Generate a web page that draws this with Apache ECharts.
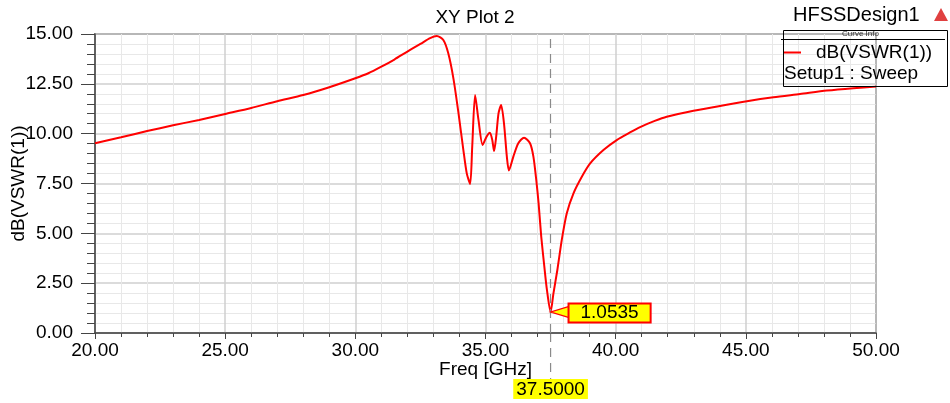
<!DOCTYPE html>
<html>
<head>
<meta charset="utf-8">
<script src="https://cdn.jsdelivr.net/npm/echarts@6/dist/echarts.min.js"></script>
<style>
  html, body { margin: 0; padding: 0; background: #fff; }
  #chart { width: 950px; height: 403px; }
</style>
</head>
<body>
<div id="chart"></div>
<script>
// frequency (GHz) and dB(VSWR(1))
const freq = [20, 21, 22, 23, 24, 25, 26, 27, 28, 29, 30, 30.5, 31, 31.5, 32, 32.5, 32.87, 33.13, 33.38, 33.57,
  33.77, 33.96, 34.15, 34.28, 34.41, 34.49, 34.6, 34.73, 34.89, 35.04, 35.17, 35.26, 35.33, 35.41, 35.5,
  35.6, 35.71, 35.82, 35.9, 36.07, 36.26, 36.48, 36.71, 36.84, 36.95, 37.04, 37.14, 37.26, 37.36, 37.5,
  37.61, 37.76, 37.93, 38.12, 38.38, 38.7, 39.02, 39.53, 40.04, 40.55, 40.94, 41.5, 41.96, 42.99, 44.01, 45.04,
  46.06, 47.08, 48.11, 49.13, 50];
const vswrDb = [9.52, 9.82, 10.13, 10.42, 10.69, 10.99, 11.29, 11.63, 11.94, 12.33, 12.78, 13.03, 13.36, 13.72, 14.12, 14.5, 14.79, 14.9, 14.7, 14.03,
  12.75, 11.05, 9.18, 8.01, 7.48, 9.35, 11.94, 10.69, 9.43, 9.85, 10.05, 9.68, 9.13, 9.85, 11.02,
  11.44, 10.52, 8.85, 8.15, 8.85, 9.52, 9.8, 9.52, 8.85, 7.68, 6.5, 4.85, 3.33, 2.16, 1.0535,
  1.99, 3.16, 4.67, 6.0, 7.01, 7.84, 8.51, 9.18, 9.68, 10.06, 10.33, 10.64, 10.85, 11.15, 11.39, 11.63,
  11.83, 11.99, 12.16, 12.28, 12.36];
const markerX = 37.5;
const markerY = 1.0535;

const font = "'Liberation Sans', Arial, sans-serif";
const chart = echarts.init(document.getElementById('chart'));

const option = {
  animation: false,
  textStyle: { fontFamily: font },
  title: {
    text: 'XY Plot 2',
    left: 'center',
    top: 3,
    textStyle: { fontFamily: font, fontSize: 19, fontWeight: 'normal', color: '#000' }
  },
  legend: {
    left: 783,
    top: 43,
    padding: 0,
    icon: 'rect',
    itemWidth: 18,
    itemHeight: 2,
    data: ['dB(VSWR(1))'],
    textStyle: { fontFamily: font, fontSize: 19, color: '#000', padding: [0, 0, 0, 10] }
  },
  grid: {
    left: 95, right: 74, top: 34, bottom: 70,
    outerBoundsMode: 'none',
    containLabel: false,
    show: true, borderColor: '#444', borderWidth: 1.5
  },
  xAxis: {
    type: 'value',
    min: 20, max: 50, interval: 5,
    name: 'Freq [GHz]',
    nameLocation: 'middle',
    nameGap: 27,
    nameMoveOverlap: false,
    nameTextStyle: { fontFamily: font, fontSize: 19, color: '#000' },
    axisLine: { show: true, lineStyle: { color: '#444', width: 1.5 } },
    axisTick: { show: true, length: 6, lineStyle: { color: '#444' } },
    minorTick: { show: true, splitNumber: 5, length: 4, lineStyle: { color: '#444' } },
    axisLabel: { fontFamily: font, fontSize: 19, color: '#000', margin: 8, formatter: v => v.toFixed(2) },
    splitLine: { show: true, lineStyle: { color: '#cfcfcf', width: 1.5 } },
    minorSplitLine: { show: true, lineStyle: { color: '#e8e8e8', width: 1 } }
  },
  yAxis: {
    type: 'value',
    min: 0, max: 15, interval: 2.5,
    name: 'dB(VSWR(1))',
    nameLocation: 'middle',
    nameGap: 67,
    nameMoveOverlap: false,
    nameTextStyle: { fontFamily: font, fontSize: 19, color: '#000' },
    axisLine: { show: true, lineStyle: { color: '#444', width: 1.5 } },
    axisTick: { show: true, length: 14, lineStyle: { color: '#444' } },
    minorTick: { show: true, splitNumber: 5, length: 8, lineStyle: { color: '#444' } },
    axisLabel: { fontFamily: font, fontSize: 19, color: '#000', margin: 22, formatter: v => v.toFixed(2) },
    splitLine: { show: true, lineStyle: { color: '#cfcfcf', width: 1.5 } },
    minorSplitLine: { show: true, lineStyle: { color: '#e8e8e8', width: 1 } }
  },
  series: [{
    name: 'dB(VSWR(1))',
    type: 'line',
    data: freq.map((f, i) => [f, vswrDb[i]]),
    showSymbol: false,
    symbol: 'none',
    smooth: 0.25,
    lineStyle: { color: '#ff0000', width: 2 },
    itemStyle: { color: '#ff0000' },
    z: 3,
    markLine: {
      silent: true,
      symbol: 'none',
      lineStyle: { color: '#8a8a8a', type: [9, 6], width: 1.2 },
      label: {
        show: true,
        position: 'start',
        distance: 46,
        formatter: markerX.toFixed(4),
        backgroundColor: '#ffff00',
        padding: [1, 3, 0, 3],
        fontFamily: font, fontSize: 19, color: '#000'
      },
      data: [{ xAxis: markerX }]
    },
    markPoint: {
      silent: true,
      symbol: 'path://M0 6 L20 0 L20 12 Z',
      symbolSize: [20, 12],
      symbolOffset: [10, 0],
      symbolKeepAspect: false,
      itemStyle: { color: '#ffff00', borderColor: '#ff0000', borderWidth: 1.5 },
      label: {
        show: true,
        position: 'inside',
        offset: [49, 1],
        formatter: markerY.toFixed(4),
        backgroundColor: '#ffff00',
        borderColor: '#ff0000',
        borderWidth: 2,
        padding: [0, 11, 0, 11],
        lineHeight: 17,
        fontFamily: font, fontSize: 19, color: '#000'
      },
      data: [{ coord: [markerX, markerY] }]
    }
  }],
  graphic: [
    { type: 'text', left: 793, top: 5, style: { text: 'HFSSDesign1', font: '20px ' + font, fill: '#000' } },
    { type: 'polygon', left: 934, top: 8, shape: { points: [[7, 0], [14, 13], [0, 13]] }, style: { fill: '#e04040' } },
    { type: 'rect', left: 781, top: 28, shape: { width: 164, height: 56 }, style: { fill: 'none', stroke: '#000', lineWidth: 1 }, z: 10 },
    { type: 'line', shape: { x1: 781, y1: 39.5, x2: 945, y2: 39.5 }, style: { stroke: '#000', lineWidth: 1 }, z: 10 },
    { type: 'text', left: 842, top: 30, style: { text: 'Curve Info', font: '8px ' + font, fill: '#333' }, z: 10 },
    { type: 'text', left: 784, top: 64, style: { text: 'Setup1 : Sweep', font: '19px ' + font, fill: '#000' }, z: 10 }
  ]
};
chart.setOption(option);

// dashed marker line continues below the axis down to the frequency tag
const bottom = chart.convertToPixel({ gridIndex: 0 }, [markerX, 0]);
chart.setOption({
  graphic: option.graphic.concat([{
    type: 'line',
    shape: { x1: bottom[0], y1: bottom[1], x2: bottom[0], y2: bottom[1] + 46 },
    style: { stroke: '#8a8a8a', lineWidth: 1.2, lineDash: [9, 6] }
  }])
});
</script>
</body>
</html>
